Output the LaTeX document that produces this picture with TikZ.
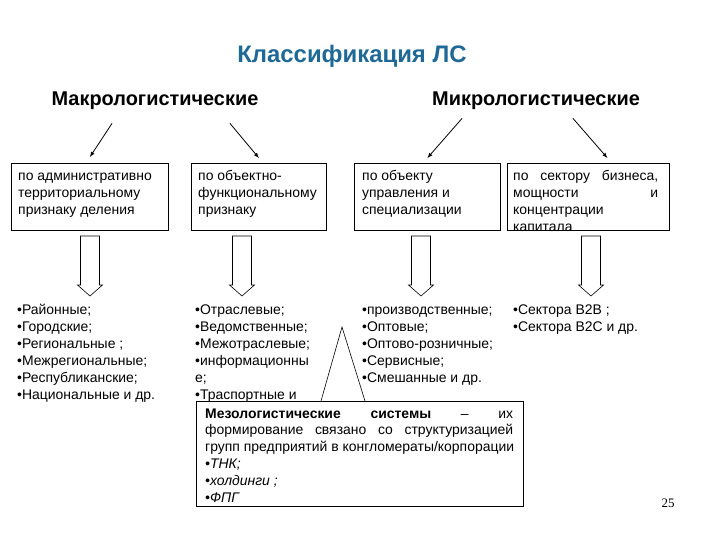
\documentclass[tikz,border=0pt]{standalone}
\usepackage{fontspec}
\setmainfont{Liberation Sans}
\newfontfamily\pagefont{Liberation Serif}
\usetikzlibrary{calc}
\definecolor{titleblue}{RGB}{30,105,150}

\tikzset{
  titletext/.style={font=\fontsize{24}{27}\selectfont\bfseries, text=titleblue},
  headtext/.style={font=\fontsize{20}{22}\selectfont\bfseries},
  catframe/.style={draw, line width=0.8bp, anchor=north west, inner sep=0pt},
  boxtext/.style={anchor=north west, inner sep=0pt, align=left, font=\fontsize{14}{17}\selectfont},
  thinarrow/.style={-latex, line width=0.8bp},
  blockdown/.pic={
    \draw[line width=0.6bp] (-9.5,0) -- (-9.5,49) -- (-12.5,49) -- (0,60) -- (12.5,49) -- (9.5,49) -- (9.5,0) -- cycle;
  }
}

\begin{document}
\begin{tikzpicture}[x=1bp,y=-1bp]
\useasboundingbox (0,0) rectangle (720,540);

% title and the two groups
\node[titletext] (title) at (352,56) {Классификация ЛС};
\node[headtext] (macro) at (155,101) {Макрологистические};
\node[headtext] (micro) at (536,101) {Микрологистические};

% frames of the four criteria
\node[catframe, minimum width=157bp, minimum height=67bp] (b1) at (11,163) {};
\node[catframe, minimum width=135bp, minimum height=67bp] (b2) at (191,163) {};
\node[catframe, minimum width=146bp, minimum height=67bp] (b3) at (354,163) {};
\node[catframe, minimum width=162bp, minimum height=67bp] (b4) at (507,163) {};

\node[boxtext] (t1) at ([xshift=7bp,yshift=-5.5bp]b1.north west) {\strut по административно\\территориальному\\признаку деления};
\node[boxtext] (t2) at ([xshift=7bp,yshift=-5.5bp]b2.north west) {\strut по объектно-\\функциональному\\признаку};
\node[boxtext] (t3) at ([xshift=8bp,yshift=-5.5bp]b3.north west) {\strut по объекту\\управления и\\специализации};
\node[boxtext] (t4) at ([xshift=6bp,yshift=-5.5bp]b4.north west) {\strut\hbox to 145bp{по\hfill сектору\hfill бизнеса,}\\\hbox to 145bp{мощности\hfill и}\\концентрации\\капитала};

% arrows from the groups
\draw[thinarrow] ([xshift=-43bp,yshift=-10bp]macro.south) -- ([yshift=6bp]b1.north);
\draw[thinarrow] ([xshift=75bp,yshift=-10bp]macro.south) -- ([yshift=5bp]b2.north);
\draw[thinarrow] ([xshift=-74bp,yshift=-5bp]micro.south) -- ([yshift=5bp]b3.north);
\draw[thinarrow] ([xshift=37bp,yshift=-5bp]micro.south) -- ([xshift=19bp,yshift=5bp]b4.north);

% block arrows
\pic at (90,236) {blockdown};
\pic at (242,236) {blockdown};
\pic at (421,236) {blockdown};
\pic at (591,236) {blockdown};

% lists
\node[boxtext] (l1) at (17,302.5) {\strut•Районные;\\•Городские;\\•Региональные ;\\•Межрегиональные;\\•Республиканские;\\•Национальные и др.};
\node[boxtext] (l2) at (195,302.5) {\strut•Отраслевые;\\•Ведомственные;\\•Межотраслевые;\\•информационны\\е;\\•Траспортные и};
\node[boxtext] (l3) at (362,302.5) {\strut•производственные;\\•Оптовые;\\•Оптово-розничные;\\•Сервисные;\\•Смешанные и др.};
\node[boxtext] (l4) at (513,302.5) {\strut•Сектора B2B ;\\•Сектора B2C и др.};

% meso systems
\node[catframe, fill=white, minimum width=327bp, minimum height=105bp] (meso) at (196,401) {};
\node[boxtext] (mt) at ([xshift=9bp,yshift=-5bp]meso.north west) {\strut\hbox to 308bp{\bfseries Мезологистические\hfill системы\hfill\mdseries –\hfill их}\\\hbox to 308bp{формирование\hfill связано\hfill со\hfill структуризацией}\\групп предприятий в конгломераты/корпорации\\{\itshape •ТНК;}\\{\itshape •холдинги ;}\\{\itshape •ФПГ}};
\coordinate (apex) at (342,327);
\draw[line width=0.6bp] ($(apex |- meso.north)+(-21,0)$) -- (apex) -- ($(apex |- meso.north)+(23,0)$);

\node[font=\pagefont\fontsize{13}{15}\selectfont] (page) at (668,503) {25};
\end{tikzpicture}
\end{document}
